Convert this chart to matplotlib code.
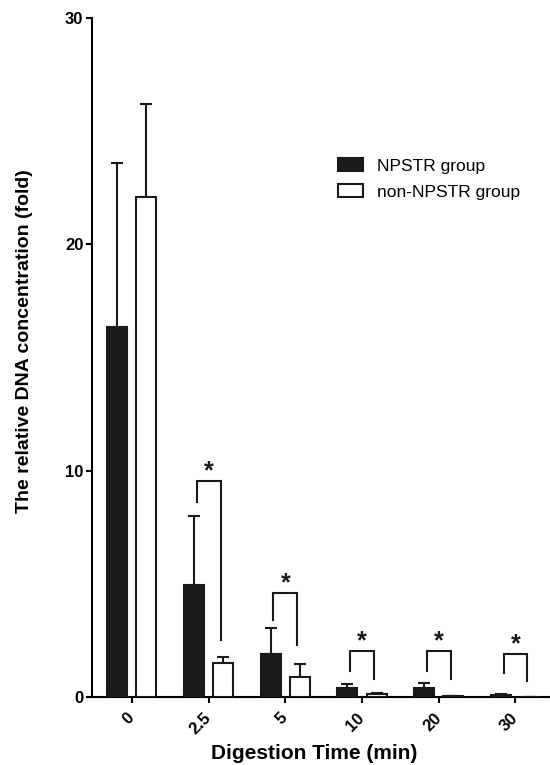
import numpy as np
import matplotlib
matplotlib.use("Agg")
import matplotlib.pyplot as plt

plt.rcParams["font.family"] = ["Liberation Sans", "DejaVu Sans"]

# data
times = ["0", "2.5", "5", "10", "20", "30"]
npstr_mean = [16.35, 4.95, 1.9, 0.4, 0.4, 0.1]
npstr_err = [7.25, 3.05, 1.15, 0.17, 0.22, 0.05]
non_mean = [22.1, 1.5, 0.9, 0.12, 0.03, 0.02]
non_err = [4.1, 0.27, 0.55, 0.06, 0.0, 0.0]

# significance brackets: (top, left leg bottom, right leg bottom)
brk_top = [None, 9.55, 4.6, 2.03, 2.03, 1.9]
brk_left = [None, 8.6, 3.4, 1.15, 1.15, 1.06]
brk_right = [None, 2.5, 2.3, 0.8, 0.8, 0.7]

BLACK = "#1a1a1a"

fig = plt.figure(figsize=(5.5, 7.65), dpi=100)
ax = fig.add_axes([92 / 550, 68 / 765, 1 - 92 / 550, 679 / 765])

x = np.arange(len(times))
off, w = 0.19, 0.26

ax.bar(x - off, npstr_mean, w, color=BLACK, edgecolor=BLACK, linewidth=1.5,
       label="NPSTR group", zorder=3)
ax.bar(x + off, non_mean, w, color="white", edgecolor=BLACK, linewidth=1.5,
       label="non-NPSTR group", zorder=3)
ax.errorbar(x - off, npstr_mean, yerr=[np.zeros(6), npstr_err], fmt="none",
            ecolor=BLACK, elinewidth=1.5, capsize=4, capthick=1.5, zorder=2)
ax.errorbar(x + off, non_mean, yerr=[np.zeros(6), non_err], fmt="none",
            ecolor=BLACK, elinewidth=1.5, capsize=4, capthick=1.5, zorder=2)

leg_dx = 0.155
for i in range(len(times)):
    if brk_top[i] is None:
        continue
    ax.plot([i - leg_dx, i - leg_dx, i + leg_dx, i + leg_dx],
            [brk_left[i], brk_top[i], brk_top[i], brk_right[i]],
            color=BLACK, lw=1.5, solid_joinstyle="miter", zorder=4)
    ax.text(i, brk_top[i] + 0.12, "*", ha="center", va="baseline",
            fontsize=18, fontweight="bold", color=BLACK)

ax.set_xlim(-0.52, 5.45)
ax.set_ylim(0, 30)
ax.set_yticks([0, 10, 20, 30])
ax.set_xticks(x)
ax.set_xticklabels(times, fontweight="bold", fontsize=12)
for lab in ax.get_xticklabels():
    lab.set_rotation(45)
    lab.set_rotation_mode("anchor")
    lab.set_ha("right")
    lab.set_va("center")
for lab in ax.get_yticklabels():
    lab.set_fontweight("bold")
    lab.set_fontsize(12)

for s in ["top", "right"]:
    ax.spines[s].set_visible(False)
for s in ["left", "bottom"]:
    ax.spines[s].set_linewidth(1.5)
ax.tick_params(width=1.5, length=4.3)
ax.tick_params(axis="y", pad=2)
ax.tick_params(axis="x", pad=9)

ax.set_xlabel("Digestion Time (min)", fontsize=15, fontweight="bold", va="top")
ax.xaxis.set_label_coords(0.485, -0.069)
ax.set_ylabel("The relative DNA concentration (fold)", fontsize=14,
              fontweight="bold")
ax.yaxis.set_label_coords(-0.128, 0.5236)

ax.legend(loc="upper left", bbox_to_anchor=(338 / 550, 1 - 158 / 765),
          bbox_transform=fig.transFigure, frameon=False, fontsize=12.5,
          handlelength=1.44, handleheight=0.8, handletextpad=0.8,
          labelspacing=0.6, borderpad=0, borderaxespad=0)

fig.savefig("out.png", dpi=100)
